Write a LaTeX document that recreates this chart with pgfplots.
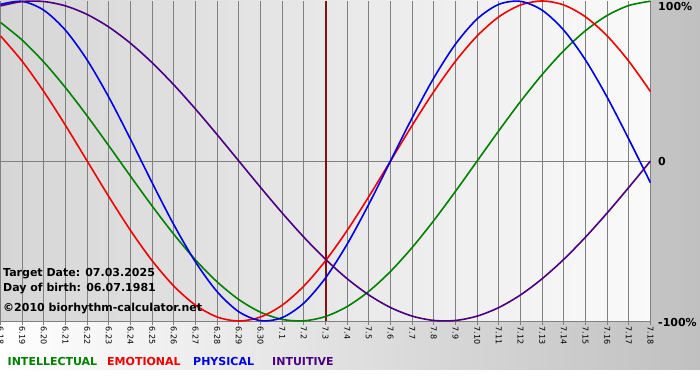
\documentclass[border=0pt]{standalone}
\usepackage{pgfplots}
\pgfplotsset{compat=1.18}
\usepackage{pgfplotstable}
\usepackage{fontspec}
\setmainfont{DejaVu Sans}
\definecolor{intel}{RGB}{0,128,0}
\definecolor{emo}{RGB}{240,0,0}
\definecolor{phys}{RGB}{0,0,230}
\definecolor{intu}{RGB}{75,0,130}
\definecolor{target}{RGB}{125,20,20}
\definecolor{gridgray}{RGB}{128,128,128}
\definecolor{outerR}{RGB}{192,192,192}
\definecolor{plotL}{RGB}{214,214,214}
\definecolor{plotR}{RGB}{250,250,250}

\pgfplotstableread{
t v
0 0.8660
1 0.7557
2 0.6182
3 0.4582
4 0.2817
5 0.0951
6 -0.0951
7 -0.2817
8 -0.4582
9 -0.6182
10 -0.7557
11 -0.8660
12 -0.9450
13 -0.9898
14 -0.9989
15 -0.9718
16 -0.9096
17 -0.8146
18 -0.6901
19 -0.5406
20 -0.3717
21 -0.1893
22 0
23 0.1893
24 0.3717
25 0.5406
26 0.6901
27 0.8146
28 0.9096
29 0.9718
30 0.9989
}\intellectual

\pgfplotstableread{
t v
0 0.7818
1 0.6235
2 0.4339
3 0.2225
4 0
5 -0.2225
6 -0.4339
7 -0.6235
8 -0.7818
9 -0.9010
10 -0.9749
11 -1
12 -0.9749
13 -0.9010
14 -0.7818
15 -0.6235
16 -0.4339
17 -0.2225
18 0
19 0.2225
20 0.4339
21 0.6235
22 0.7818
23 0.9010
24 0.9749
25 1
26 0.9749
27 0.9010
28 0.7818
29 0.6235
30 0.4339
}\emotional

\pgfplotstableread{
t v
0 0.9791
1 0.9977
2 0.9423
3 0.8170
4 0.6311
5 0.3984
6 0.1362
7 -0.1362
8 -0.3984
9 -0.6311
10 -0.8170
11 -0.9423
12 -0.9977
13 -0.9791
14 -0.8879
15 -0.7308
16 -0.5196
17 -0.2698
18 0
19 0.2698
20 0.5196
21 0.7308
22 0.8879
23 0.9791
24 0.9977
25 0.9423
26 0.8170
27 0.6311
28 0.3984
29 0.1362
30 -0.1362
}\physical

\pgfplotstableread{
t v
0 0.9694
1 0.9966
2 0.9966
3 0.9694
4 0.9158
5 0.8372
6 0.7357
7 0.6142
8 0.4759
9 0.3247
10 0.1646
11 0
12 -0.1646
13 -0.3247
14 -0.4759
15 -0.6142
16 -0.7357
17 -0.8372
18 -0.9158
19 -0.9694
20 -0.9966
21 -0.9966
22 -0.9694
23 -0.9158
24 -0.8372
25 -0.7357
26 -0.6142
27 -0.4759
28 -0.3247
29 -0.1646
30 0
}\intuitive

\begin{document}
\begin{tikzpicture}[x=1pt,y=1pt]
\fill[left color=white, right color=outerR] (0,10) rectangle (700,380);
\fill[white] (0,0) rectangle (700,10);
\begin{axis}[
  at={(0.5pt,59pt)}, anchor=south west,
  scale only axis, width=650pt, height=320pt,
  xmin=0, xmax=30, ymin=-1, ymax=1,
  axis x line*=bottom, axis y line*=right,
  axis line style={draw=gridgray, line width=0.8pt},
  xtick={0,...,30},
  xticklabels={6.18,6.19,6.20,6.21,6.22,6.23,6.24,6.25,6.26,6.27,6.28,6.29,6.30,7.1,7.2,7.3,7.4,7.5,7.6,7.7,7.8,7.9,7.10,7.11,7.12,7.13,7.14,7.15,7.16,7.17,7.18},
  ytick={0}, yticklabels={},
  xmajorgrids, ymajorgrids,
  grid style={draw=gridgray, line width=0.8pt},
  major tick length=4pt, tick align=outside,
  xtick style={draw=gridgray, line width=0.8pt},
  ytick style={draw=none},
  x tick label style={rotate=-90, anchor=west, inner sep=1.5pt, font=\fontsize{8}{8}\selectfont},
  axis background/.style={left color=plotL, right color=plotR},
]
\addplot[target, line width=2pt] coordinates {(15,-1) (15,1)};
\addplot[intel, line width=1.6pt, smooth] table[x=t,y=v] {\intellectual};
\addplot[emo, line width=1.6pt, smooth] table[x=t,y=v] {\emotional};
\addplot[phys, line width=1.6pt, smooth] table[x=t,y=v] {\physical};
\addplot[intu, line width=1.6pt, smooth] table[x=t,y=v] {\intuitive};
\end{axis}
\begin{scope}[every node/.style={inner sep=0pt, font=\bfseries\fontsize{11}{13}\selectfont}]
\node[anchor=base west] at (3,104) {Target Date: 07.03.2025};
\node[anchor=base west] at (3,89) {Day of birth: 06.07.1981};
\node[anchor=base west] at (3,69) {©2010 biorhythm-calculator.net};
\node[anchor=base west] at (658,369) {100\%};
\node[anchor=base west] at (658,214) {0};
\node[anchor=base west] at (658,54) {-100\%};
\node[anchor=base west, text=intel] at (7.5,15) {INTELLECTUAL};
\node[anchor=base west, text=emo] at (107,15) {EMOTIONAL};
\node[anchor=base west, text=phys] at (193,15) {PHYSICAL};
\node[anchor=base west, text=intu] at (272,15) {INTUITIVE};
\end{scope}
\pgfresetboundingbox
\useasboundingbox (0,0) rectangle (700,380);
\end{tikzpicture}
\end{document}
